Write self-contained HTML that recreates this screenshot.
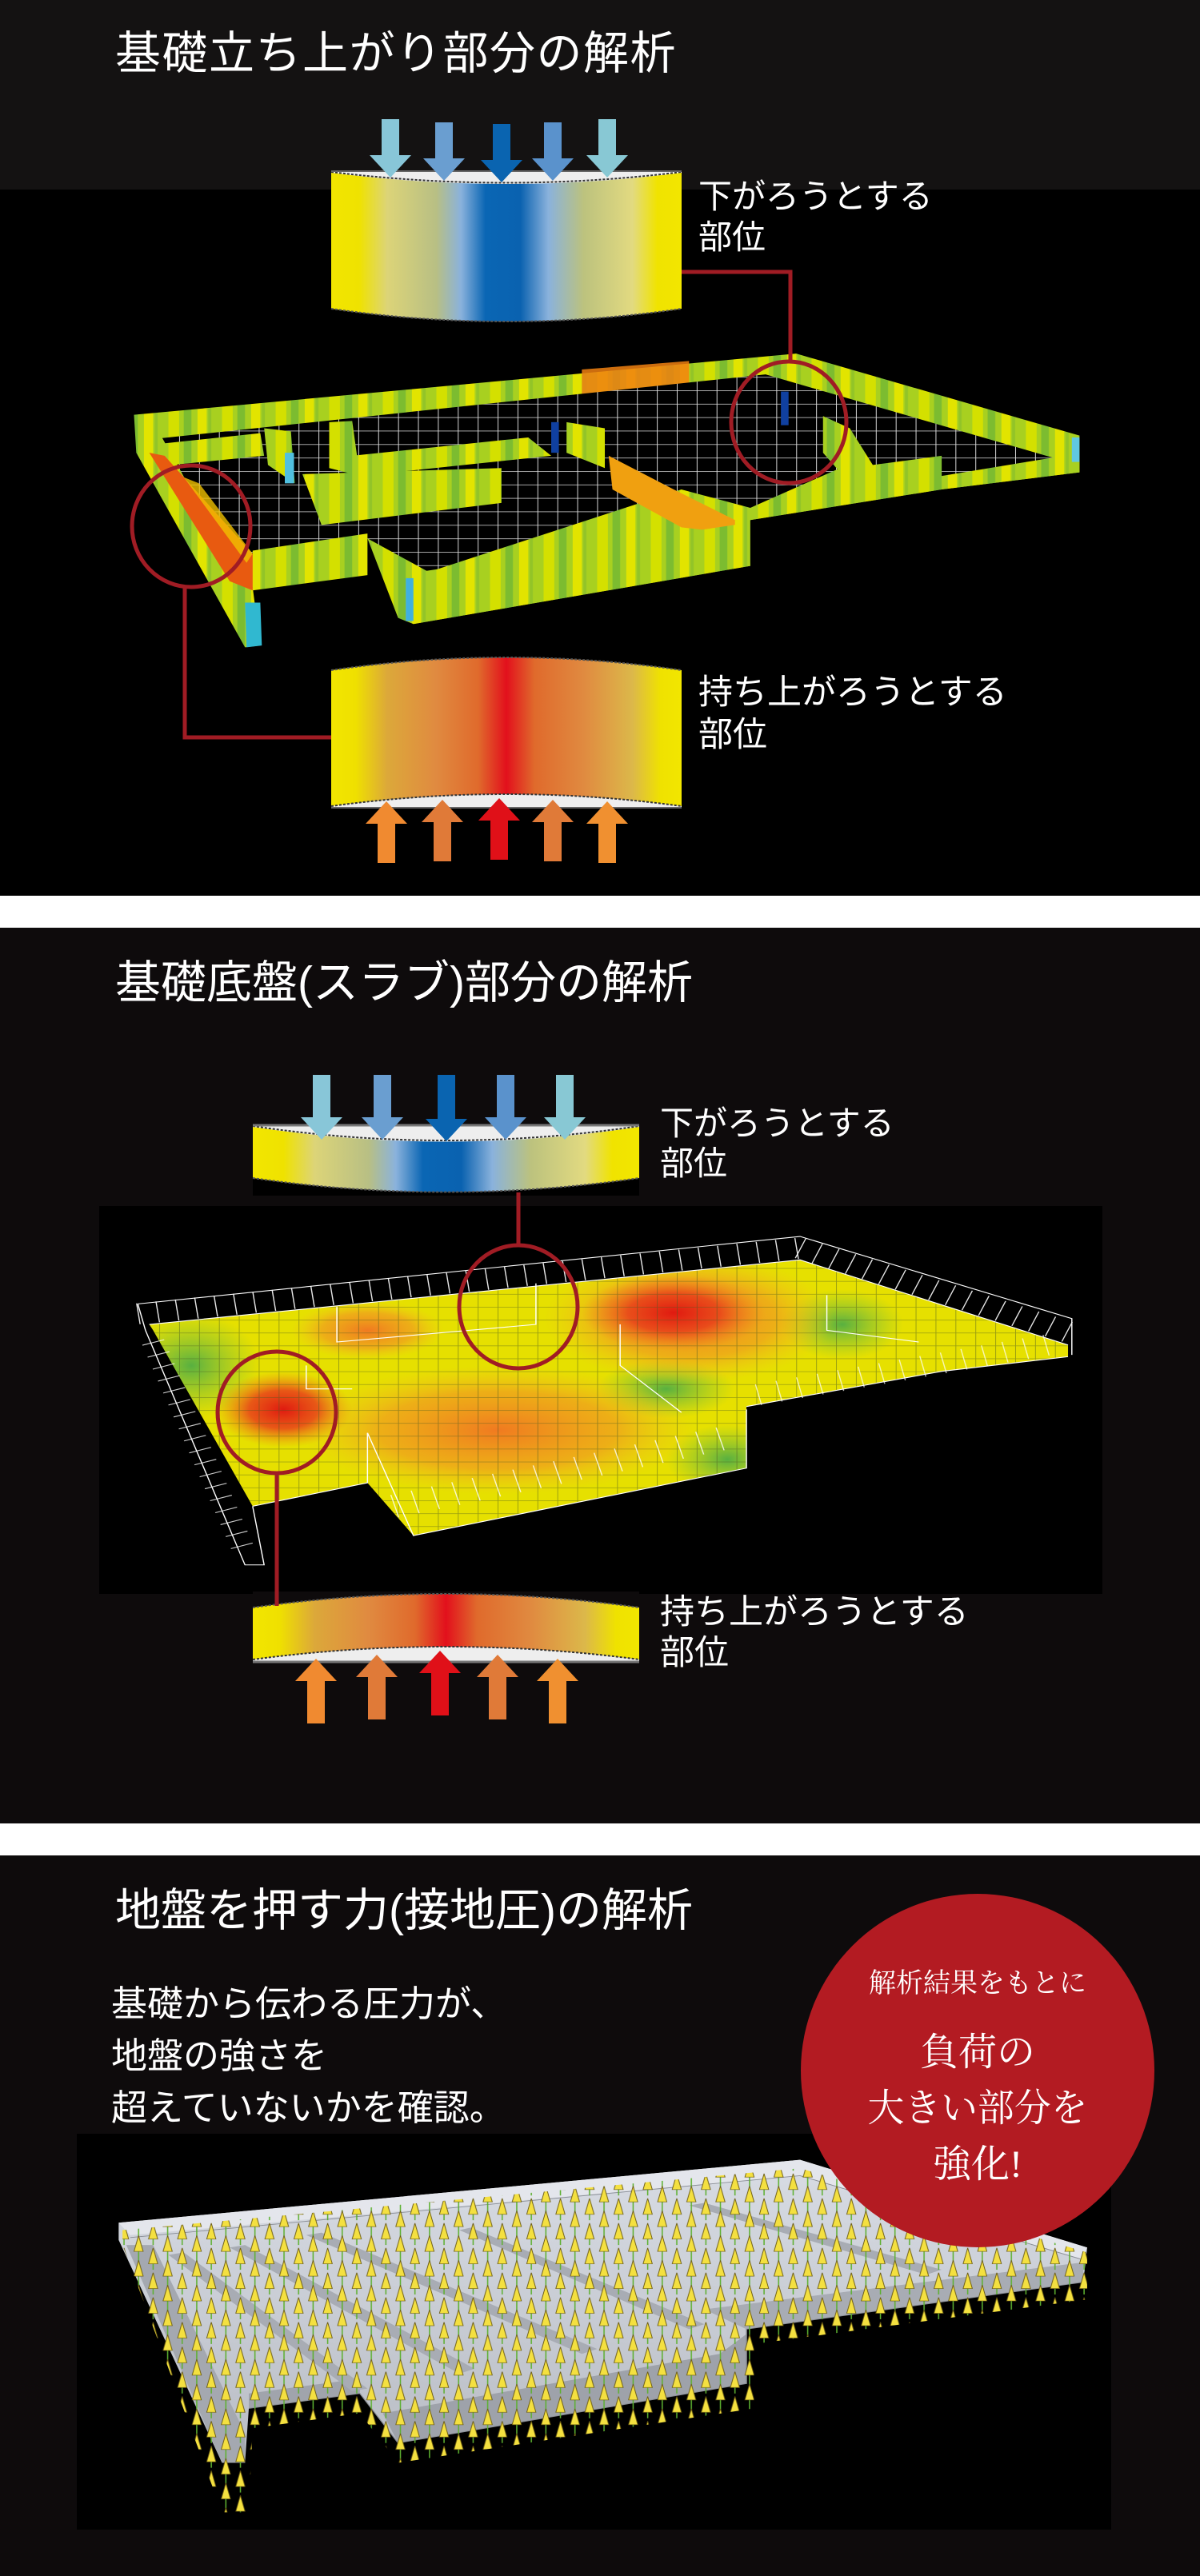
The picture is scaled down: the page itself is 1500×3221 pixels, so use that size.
<!DOCTYPE html>
<html><head><meta charset="utf-8"><style>
html,body{margin:0;padding:0;background:#fff;}
svg{display:block;}
text{font-family:"Liberation Sans","Noto Sans CJK JP",sans-serif;fill:#fff;}
.ser{font-family:"Liberation Serif","Noto Serif CJK SC",serif;}
</style></head><body>
<svg width="1500" height="3221" viewBox="0 0 1500 3221" xmlns="http://www.w3.org/2000/svg">
<defs>
<linearGradient id="gb" x1="0" x2="1" y1="0" y2="0">
<stop offset="0" stop-color="#f2e600"/><stop offset="0.08" stop-color="#efe200"/><stop offset="0.16" stop-color="#dcd478"/><stop offset="0.3" stop-color="#b8bf84"/><stop offset="0.37" stop-color="#8ab2dc"/><stop offset="0.44" stop-color="#0a66b4"/><stop offset="0.54" stop-color="#0a62b0"/><stop offset="0.62" stop-color="#8ab2dc"/><stop offset="0.72" stop-color="#bcc27e"/><stop offset="0.86" stop-color="#e2da80"/><stop offset="0.93" stop-color="#f0e300"/><stop offset="1" stop-color="#f2e600"/>
</linearGradient>
<linearGradient id="gr" x1="0" x2="1" y1="0" y2="0">
<stop offset="0" stop-color="#f2e600"/><stop offset="0.07" stop-color="#efe000"/><stop offset="0.16" stop-color="#dca83a"/><stop offset="0.3" stop-color="#e08a40"/><stop offset="0.42" stop-color="#e06a2c"/><stop offset="0.5" stop-color="#e2101c"/><stop offset="0.58" stop-color="#e06a2c"/><stop offset="0.72" stop-color="#e08a40"/><stop offset="0.86" stop-color="#dcb84a"/><stop offset="0.94" stop-color="#efe200"/><stop offset="1" stop-color="#f2e600"/>
</linearGradient>
<pattern id="stripes" patternUnits="userSpaceOnUse" width="70" height="40">
<rect width="70" height="40" fill="#a8d020"/><rect x="10" width="14" height="40" fill="#d4e000"/><rect x="30" width="10" height="40" fill="#7cbc30"/><rect x="48" width="12" height="40" fill="#e2e400"/><rect x="62" width="4" height="40" fill="#92c428"/>
</pattern>
<pattern id="grid" patternUnits="userSpaceOnUse" width="26" height="22">
<rect width="26" height="22" fill="#000"/><path d="M0 0.5H26M0.5 0V22" stroke="#ddd" stroke-width="1"/>
</pattern>
<pattern id="grid2" patternUnits="userSpaceOnUse" width="26" height="22">
<path d="M0 0.5H26M0.5 0V22" stroke="#4a5a20" stroke-width="1" opacity="0.5"/>
</pattern>
<radialGradient id="hot1"><stop offset="0" stop-color="#e01a10"/><stop offset="0.5" stop-color="#e8401a" stop-opacity="0.85"/><stop offset="1" stop-color="#f08020" stop-opacity="0"/></radialGradient>
<radialGradient id="warm"><stop offset="0" stop-color="#f07a20"/><stop offset="0.6" stop-color="#f09a20" stop-opacity="0.7"/><stop offset="1" stop-color="#f0c020" stop-opacity="0"/></radialGradient>
<radialGradient id="grn"><stop offset="0" stop-color="#58b040"/><stop offset="1" stop-color="#80c040" stop-opacity="0"/></radialGradient>
<linearGradient id="slab" x1="0" x2="0" y1="0" y2="1"><stop offset="0" stop-color="#d8dce4"/><stop offset="1" stop-color="#b8bcc4"/></linearGradient>
<pattern id="cones" patternUnits="userSpaceOnUse" width="38" height="50">
<line x1="10" y1="20" x2="10" y2="62" stroke="#5cb030" stroke-width="1.6"/>
<path d="M4 38 L10 6 L16 38 Z" fill="#f4e040" stroke="#6a5a10" stroke-width="1"/>
<line x1="29" y1="-5" x2="29" y2="37" stroke="#5cb030" stroke-width="1.6"/>
<path d="M23 13 L29 -19 L35 13 Z" fill="#f4e040" stroke="#6a5a10" stroke-width="1"/>
<path d="M23 63 L29 31 L35 63 Z" fill="#f4e040" stroke="#6a5a10" stroke-width="1"/>
</pattern>
</defs>

<rect x="0" y="0" width="1500" height="3221" fill="#fff"/>
<rect x="0" y="0" width="1500" height="1120" fill="#000"/>
<rect x="0" y="0" width="1500" height="237" fill="#141212"/>
<rect x="0" y="1160" width="1500" height="1120" fill="#0e0b0c"/>
<rect x="124" y="1508" width="1254" height="485" fill="#000"/>
<rect x="0" y="2320" width="1500" height="901" fill="#0e0b0c"/>
<rect x="96" y="2668" width="1293" height="495" fill="#000"/>

<!-- ============ SECTION 1 ============ -->
<text x="144" y="86" font-size="57" letter-spacing="1.5">基礎立ち上がり部分の解析</text>

<g transform="scale(0.957,0.765)">
<polygon points="175,678 1040,578 1410,712 1410,772 1230,800 980,850 980,925 540,1020 520,1010 480,880 330,960 340,1055 320,1058 178,740" fill="url(#stripes)"/>
<polygon points="760,604 900,590 900,636 760,652" fill="#f08010" opacity="0.85"/>
<polygon points="212,716 1000,612 1375,748 1230,778 1110,758 980,830 890,800 560,935 480,880 330,905 245,790" fill="url(#grid)"/>
<polygon points="430,690 460,688 470,778 430,765" fill="url(#stripes)"/>
<polygon points="460,745 690,715 720,745 470,778" fill="url(#stripes)"/>
<polygon points="395,775 655,765 655,822 420,858" fill="url(#stripes)"/>
<polygon points="740,690 790,700 790,765 740,740" fill="url(#stripes)"/>
<polygon points="345,700 380,705 385,790 350,760" fill="url(#stripes)"/>
<polygon points="212,725 340,708 345,745 225,760" fill="url(#stripes)"/>
<polygon points="795,745 880,800 960,850 960,872 890,862 800,800" fill="#f0a010"/>
<polygon points="1075,680 1110,700 1140,760 1230,745 1230,800 1110,790 1075,740" fill="url(#stripes)"/>
<polygon points="960,845 1230,785 1410,752 1410,772 1230,800 980,850" fill="url(#stripes)"/>
<polygon points="330,900 480,872 480,940 330,965" fill="url(#stripes)"/>
<polygon points="520,940 975,855 980,925 540,1020" fill="url(#stripes)"/>
<polygon points="195,740 215,745 330,905 330,965 300,950" fill="#e85a10"/>
<polygon points="240,780 260,790 330,905 322,920" fill="#f0c000" opacity="0.8"/>
<polygon points="320,985 340,985 342,1055 322,1058" fill="#30b8d0"/>
<rect x="1020" y="640" width="10" height="55" fill="#1040a0"/>
<rect x="720" y="690" width="10" height="50" fill="#1040a0"/>
<rect x="372" y="740" width="12" height="50" fill="#50c0e0"/>
<rect x="530" y="945" width="10" height="70" fill="#40b0e0"/>
<rect x="1400" y="715" width="10" height="40" fill="#60c8e0"/>
</g>

<rect x="414" y="214" width="438" height="190" fill="url(#gb)"/>
<path d="M414 214 H852 V216 Q633 244 414 216 Z" fill="#eeeeee"/>
<path d="M414 215 Q633 242 852 215" fill="none" stroke="#333" stroke-width="2" stroke-dasharray="3 2"/>
<path d="M414 386 Q633 418 852 386 V405 H414 Z" fill="#000"/>
<path d="M414 386 Q633 418 852 386" fill="none" stroke="#555" stroke-width="2" stroke-dasharray="3 2"/>
<line x1="414" y1="214" x2="852" y2="214" stroke="#666" stroke-width="2"/>
<path d="M477 149 h22 v45 h15 l-26 28 l-26 -28 h15 z" fill="#88c6d8"/>
<path d="M544 153 h22 v45 h15 l-26 28 l-26 -28 h15 z" fill="#6a9ed0"/>
<path d="M616 155 h22 v45 h15 l-26 28 l-26 -28 h15 z" fill="#0a64b0"/>
<path d="M680 153 h22 v45 h15 l-26 28 l-26 -28 h15 z" fill="#5a92cc"/>
<path d="M748 149 h22 v45 h15 l-26 28 l-26 -28 h15 z" fill="#88c8d4"/>
<text x="873" y="260" font-size="42">下がろうとする</text>
<text x="873" y="311" font-size="42">部位</text>

<rect x="414" y="822" width="438" height="188" fill="url(#gr)"/>
<path d="M414 838 Q633 806 852 838 V818 H414 Z" fill="#000"/>
<path d="M414 838 Q633 806 852 838" fill="none" stroke="#555" stroke-width="2" stroke-dasharray="3 2"/>
<path d="M414 1008 Q633 978 852 1008 V1010 H414 Z" fill="#eeeeee"/>
<path d="M414 1008 Q633 978 852 1008" fill="none" stroke="#333" stroke-width="2" stroke-dasharray="3 2"/>
<line x1="414" y1="1010" x2="852" y2="1010" stroke="#666" stroke-width="2"/>
<path d="M472 1079 h22 v-49 h15 l-26 -28 l-26 28 h15 z" fill="#f08a30"/>
<path d="M542 1077 h22 v-49 h15 l-26 -28 l-26 28 h15 z" fill="#e07a38"/>
<path d="M613 1075 h22 v-49 h15 l-26 -28 l-26 28 h15 z" fill="#e01018"/>
<path d="M680 1077 h22 v-49 h15 l-26 -28 l-26 28 h15 z" fill="#e07a38"/>
<path d="M748 1079 h22 v-49 h15 l-26 -28 l-26 28 h15 z" fill="#f09030"/>
<text x="873" y="880" font-size="43">持ち上がろうとする</text>
<text x="873" y="933" font-size="43">部位</text>

<path d="M852 340 H988 V452" fill="none" stroke="#a01c24" stroke-width="5"/>
<ellipse cx="986" cy="528" rx="72" ry="76" fill="none" stroke="#a01c24" stroke-width="5"/>
<ellipse cx="239" cy="658" rx="74" ry="76" fill="none" stroke="#a01c24" stroke-width="5"/>
<path d="M231 733 V922 H414" fill="none" stroke="#a01c24" stroke-width="5"/>

<!-- ============ SECTION 2 ============ -->
<text x="144" y="1248" font-size="57">基礎底盤(スラブ)部分の解析</text>

<g transform="translate(0,1150) scale(0.957,0.7334)">
<polygon points="195,690 1045,580 1395,725 1395,745 1230,770 975,830 975,935 540,1050 480,960 330,1000 200,700" fill="#e6e000"/>
<clipPath id="c2"><polygon points="195,690 1045,580 1395,725 1395,745 1230,770 975,830 975,935 540,1050 480,960 330,1000 200,700"/></clipPath>
<g clip-path="url(#c2)">
<ellipse cx="250" cy="760" rx="90" ry="90" fill="url(#grn)"/>
<ellipse cx="1100" cy="690" rx="80" ry="60" fill="url(#grn)"/>
<ellipse cx="870" cy="800" rx="90" ry="50" fill="url(#grn)"/>
<ellipse cx="950" cy="920" rx="80" ry="60" fill="url(#grn)"/>
<ellipse cx="650" cy="870" rx="260" ry="110" fill="url(#warm)"/>
<ellipse cx="900" cy="680" rx="190" ry="110" fill="url(#warm)"/>
<ellipse cx="880" cy="670" rx="120" ry="65" fill="url(#hot1)"/>
<ellipse cx="370" cy="835" rx="90" ry="65" fill="url(#hot1)"/>
<ellipse cx="480" cy="700" rx="100" ry="50" fill="url(#warm)"/>
<polygon points="195,690 1045,580 1395,725 1395,745 1230,770 975,830 975,935 540,1050 480,960 330,1000 200,700" fill="url(#grid2)"/>
</g>
<g fill="none" stroke="#fff" stroke-width="1.5">
<polyline points="180,655 1045,540 1400,680 1400,742"/>
<polyline points="195,690 1045,580 1395,725"/>
<line x1="180" y1="672" x2="1045" y2="560" stroke-width="36" stroke-dasharray="1.5 24" opacity="0.9"/>
<line x1="1045" y1="560" x2="1400" y2="705" stroke-width="36" stroke-dasharray="1.5 22" opacity="0.9"/>
<polyline points="180,655 190,700 320,1100 345,1100 330,1000"/>
<line x1="200" y1="720" x2="320" y2="1080" stroke-width="30" stroke-dasharray="1.5 20" opacity="0.8"/>
<polyline points="330,1000 480,960 480,875"/>
<polyline points="480,875 540,1050 975,935 975,835"/>
<line x1="515" y1="1000" x2="960" y2="880" stroke-width="40" stroke-dasharray="1.5 26" opacity="0.8"/>
<polyline points="975,830 1230,770 1395,745"/>
<line x1="990" y1="810" x2="1390" y2="720" stroke-width="36" stroke-dasharray="1.5 26" opacity="0.7"/>
<polyline points="440,660 440,720 700,690 700,620"/>
<polyline points="810,690 810,760 890,840"/>
<polyline points="1080,640 1080,700 1200,720"/>
<polyline points="400,760 400,800 460,800"/>
</g>
</g>

<rect x="316" y="1407" width="483" height="86" fill="url(#gb)"/>
<path d="M316 1407 H799 V1409 Q557 1446 316 1409 Z" fill="#eeeeee"/>
<path d="M316 1408 Q557 1444 799 1408" fill="none" stroke="#333" stroke-width="2" stroke-dasharray="3 2"/>
<path d="M316 1473 Q557 1508 799 1473 V1495 H316 Z" fill="#000"/>
<path d="M316 1473 Q557 1508 799 1473" fill="none" stroke="#555" stroke-width="2" stroke-dasharray="3 2"/>
<line x1="316" y1="1407" x2="799" y2="1407" stroke="#777" stroke-width="3"/>
<path d="M391 1344 h22 v53 h15 l-26 28 l-26 -28 h15 z" fill="#88c6d8"/>
<path d="M467 1344 h22 v53 h15 l-26 28 l-26 -28 h15 z" fill="#6a9ed0"/>
<path d="M547 1344 h22 v55 h15 l-26 28 l-26 -28 h15 z" fill="#0a64b0"/>
<path d="M621 1344 h22 v53 h15 l-26 28 l-26 -28 h15 z" fill="#5a92cc"/>
<path d="M695 1344 h22 v53 h15 l-26 28 l-26 -28 h15 z" fill="#88c8d4"/>
<text x="825" y="1419" font-size="42">下がろうとする</text>
<text x="825" y="1469" font-size="42">部位</text>

<rect x="316" y="1993" width="483" height="85" fill="url(#gr)"/>
<path d="M316 2010 Q557 1976 799 2010 V1990 H316 Z" fill="#0e0b0c"/>
<path d="M316 2010 Q557 1976 799 2010" fill="none" stroke="#555" stroke-width="2" stroke-dasharray="3 2"/>
<path d="M316 2075 Q557 2043 799 2075 V2078 H316 Z" fill="#eeeeee"/>
<path d="M316 2075 Q557 2043 799 2075" fill="none" stroke="#333" stroke-width="2" stroke-dasharray="3 2"/>
<line x1="316" y1="2078" x2="799" y2="2078" stroke="#777" stroke-width="3"/>
<path d="M384 2155 h22 v-53 h15 l-26 -28 l-26 28 h15 z" fill="#f08a30"/>
<path d="M460 2150 h22 v-53 h15 l-26 -28 l-26 28 h15 z" fill="#e07a38"/>
<path d="M539 2145 h22 v-53 h15 l-26 -28 l-26 28 h15 z" fill="#e01018"/>
<path d="M611 2150 h22 v-53 h15 l-26 -28 l-26 28 h15 z" fill="#e07a38"/>
<path d="M686 2155 h22 v-53 h15 l-26 -28 l-26 28 h15 z" fill="#f09030"/>
<text x="825" y="2030" font-size="43">持ち上がろうとする</text>
<text x="825" y="2081" font-size="43">部位</text>

<line x1="648" y1="1491" x2="648" y2="1559" stroke="#a01c24" stroke-width="5"/>
<ellipse cx="648" cy="1634" rx="74" ry="77" fill="none" stroke="#a01c24" stroke-width="5"/>
<ellipse cx="346" cy="1766" rx="74" ry="76" fill="none" stroke="#a01c24" stroke-width="5"/>
<line x1="346" y1="1842" x2="346" y2="2008" stroke="#a01c24" stroke-width="5"/>

<!-- ============ SECTION 3 ============ -->
<text x="144" y="2408" font-size="57">地盤を押す力(接地圧)の解析</text>
<text x="139" y="2521" font-size="45">基礎から伝わる圧力が、</text>
<text x="139" y="2586" font-size="45">地盤の強さを</text>
<text x="139" y="2651" font-size="45">超えていないかを確認。</text>

<g transform="translate(0,2250) scale(0.957,0.619)">
<polygon points="155,855 1045,728 1420,905 1415,975 975,1070 975,1180 520,1300 470,1200 325,1230 320,1340 290,1340 155,890" fill="url(#slab)"/>
<polygon points="155,855 1045,728 1420,905 1415,930 1045,760 170,880" fill="#e4e6ec"/>
<!-- front faces -->
<polygon points="920,1030 1415,935 1415,975 975,1070" fill="#a8acb4"/>
<polygon points="975,1080 975,1180 520,1300 500,1240 940,1120" fill="#9ea2aa"/>
<polygon points="325,1200 470,1170 470,1200 325,1230" fill="#a0a4ac"/>
<polygon points="165,900 200,900 320,1280 320,1340 290,1340" fill="#a4a8b0"/>
<!-- interior walls -->
<g fill="#a8acb4">
<polygon points="220,920 240,915 480,1190 460,1195"/>
<polygon points="300,905 320,900 620,1150 600,1160"/>
<polygon points="400,880 420,875 780,1110 760,1120"/>
<polygon points="600,870 615,865 920,1060 900,1070"/>
<polygon points="900,820 920,815 1230,950 1210,960"/>
</g>
<g fill="none" stroke="#8a8e96" stroke-width="1.5">
<polyline points="170,885 1045,760 1415,930"/>
<polyline points="325,1230 470,1200 520,1300 975,1180 975,1070 1415,975"/>
</g>
<polygon points="160,870 1045,745 1420,915 1420,1010 985,1100 985,1230 520,1340 470,1240 330,1270 325,1440 290,1440 160,900" fill="url(#cones)"/>
</g>

<circle cx="1222" cy="2589" r="221" fill="#b31b22"/>
<text x="1222" y="2491" font-size="34" text-anchor="middle" class="ser" textLength="272" lengthAdjust="spacingAndGlyphs">解析結果をもとに</text>
<text x="1222" y="2582" font-size="48" text-anchor="middle" class="ser">負荷の</text>
<text x="1222" y="2652" font-size="48" text-anchor="middle" class="ser" textLength="275" lengthAdjust="spacingAndGlyphs">大きい部分を</text>
<text x="1222" y="2722" font-size="48" text-anchor="middle" class="ser">強化!</text>
</svg>
</body></html>
